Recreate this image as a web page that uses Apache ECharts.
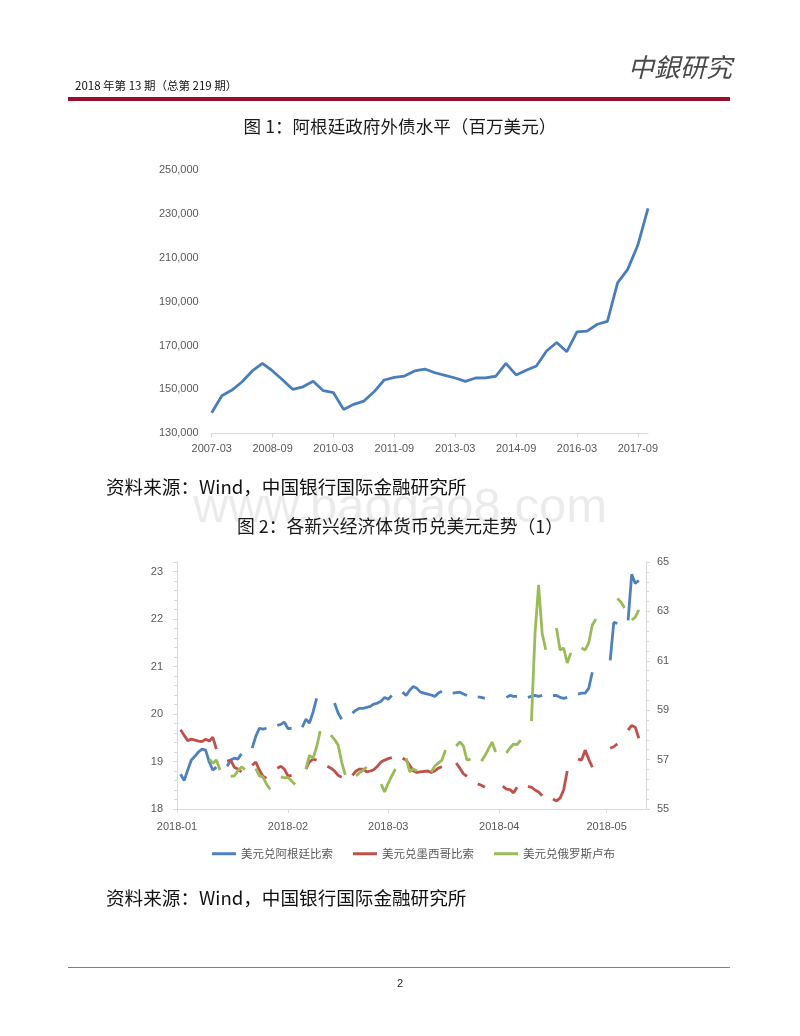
<!DOCTYPE html>
<html><head><meta charset="utf-8">
<script src="https://cdn.jsdelivr.net/npm/echarts@6/dist/echarts.min.js"></script>
<style>html,body{margin:0;padding:0;background:#fff}#c{width:800px;height:1036px}</style>
</head><body><div id="c"></div>
<script>
// ---------- Chart 1: Argentine government external debt (USD mn), quarterly 2007Q1-2017Q4
const debtValues = [139400,147100,149700,153500,158400,161900,158400,154300,150000,151200,153700,149400,
  148500,140900,143200,144700,148900,154300,155500,156100,158400,159300,157600,156400,155200,153700,
  155200,155300,156000,161900,156600,158700,160700,167500,171400,167200,176200,176600,179700,181000,
  198600,204700,215800,232500];
const debtYTicks = [130000, 250000, 20000]; // min, max, step
const quarterLabels = [];
for (let y = 2007; y <= 2017; y++) for (const m of ['03','06','09','12']) quarterLabels.push(y + '-' + m);

// ---------- Chart 2: daily, day 0 = 2018-01-01
const monthTicks = {0:'2018-01', 31:'2018-02', 59:'2018-03', 90:'2018-04', 120:'2018-05'};
const N = null;
const usdArs = [N,
 18.73,18.60,18.82,19.03,19.11,19.20,19.26,19.24,18.99,18.82,18.88, N,N,
 18.90,19.03,19.07,19.05,19.16, N,N,
 19.28,19.53,19.70,19.68,19.70, N,N,
 19.76,19.78,19.83,19.69,19.70, N,N,
 19.72,19.89,19.81,20.04,20.33, N,N,N,N,
 20.23,20.02,19.89, N,N,
 20.02,20.08,20.12,20.12,20.14,20.16,20.21,20.23,20.27,20.35,20.31,20.39, N,N,
 20.46,20.39,20.50,20.58,20.54,20.46,20.44,20.42,20.40,20.37,20.44,20.48, N,N,
 20.44,20.45,20.46,20.42,20.39, N,N,
 20.36,20.35,20.33, N,N,N,N,N,
 20.35,20.39,20.37,20.37, N,N,
 20.35,20.37,20.39,20.37,20.39, N,N,
 20.39,20.39,20.35,20.33,20.35, N,N,
 20.42,20.44,20.44,20.54,20.88, N,N,N,N,
 21.13,21.93,21.91, N,N,
 21.97,22.94,22.75,22.81, N,N];
const usdMxn = [N,
 19.67,19.55,19.44,19.47,19.45,19.43,19.42,19.47,19.43,19.51,19.26, N,N,
 19.01,19.03,18.88,18.84,18.78, N,N,
 18.92,18.99,18.82,18.69,18.65, N,N,
 18.86,18.90,18.84,18.69,18.71, N,N,N,
 18.84,18.99,19.05,19.03, N,N,
 18.90,18.86,18.80,18.71,18.67, N,N,
 18.71,18.80,18.84,18.84,18.78,18.80,18.83,18.90,18.99,19.03,19.06,19.08, N,N,
 19.07,19.03,18.92,18.80,18.77,18.78,18.79,18.80,18.77,18.80,18.86,18.89, N,N,N,
 18.97,18.86,18.74,18.69, N,N,
 18.53,18.50,18.46, N,N,N,N,
 18.48,18.42,18.41,18.34,18.46, N,N,
 18.47,18.46,18.40,18.36,18.28, N,N,
 18.21,18.17,18.23,18.40,18.80, N,N,
 19.05,19.03,19.24,19.05,18.88, N,N,N,N,
 19.28,19.31,19.37, N,N,
 19.66,19.76,19.72,19.49, N,N];
const usdRub = [N,N,N,N,N,N,N,N,N,
 57.02,56.86,56.98,56.58, N,N,
 56.32,56.34,56.54,56.70,56.60, N,N,
 56.64,56.34,56.30,56.01,55.79, N,N,
 56.30,56.26,56.28,56.13,55.99, N,N,
 56.62,57.17,57.06,57.51,58.16, N,N,
 57.99,57.81,57.59,56.90,56.38, N,N,
 56.34,56.46,56.58,56.70, N,N,N,
 56.01,55.69,56.05,56.34,56.62, N,N,
 57.06,56.50,56.62,56.54, N,N,N,
 56.50,56.74,56.86,56.98,57.39, N,N,
 57.55,57.71,57.55,56.98,57.02, N,N,
 56.94,57.15,57.43,57.71,57.31, N,N,
 57.27,57.47,57.63,57.61,57.79, N,N,
 58.56,62.10,64.07,62.10,61.45, N,N,
 62.33,61.44,61.52,60.91,61.32, N,N,
 61.52,61.44,61.72,62.45,62.69, N,N,N,N,N,
 63.52,63.38,63.14, N,
 62.65,62.77,63.06, N,N];
const seriesNames = ['美元兑阿根廷比索','美元兑墨西哥比索','美元兑俄罗斯卢布'];
const leftAxis = [18, 23.2, 1];
const rightAxis = [55, 65, 2];

const dayLabels = [];
for (let i = 0; i < 132; i++) dayLabels.push(String(i));

const CJK = '"Noto Sans CJK SC", sans-serif';
const NUM = '"Liberation Sans", Arial, sans-serif';
const axisGray = '#d9d9d9';
const labelGray = '#595959';

const chart = echarts.init(document.getElementById('c'), null, {renderer:'canvas'});
const isMonth = (i) => monthTicks[i] !== undefined;

chart.setOption({
  animation: false,
  backgroundColor: '#fff',
  color: ['#4f81bd','#c0504d','#9bbb59'],
  graphic: [
    {type:'text', left:75, top:80, style:{text:'2018 年第 13 期（总第 219 期）', font:'11.5px ' + CJK, fill:'#111'}},
    {type:'text', left:628, top:54, style:{text:'中銀研究', font:'italic 26px ' + CJK, fill:'#4a4a4a'}},
    {type:'rect', shape:{x:68, y:97, width:662, height:4}, style:{fill:'#9c0f2b'}},
    {type:'text', x:400, y:126, style:{text:'图 1：阿根廷政府外债水平（百万美元）', font:'17.6px ' + CJK, fill:'#1a1a1a', textAlign:'center', textVerticalAlign:'middle'}},
    {type:'text', x:106, y:487, style:{text:'资料来源：Wind，中国银行国际金融研究所', font:'18.6px ' + CJK, fill:'#111', textVerticalAlign:'middle'}},
    {type:'text', x:400, y:508, z:-1, style:{text:'www.baogao8.com', font:'49px ' + NUM, fill:'rgba(0,0,0,0.08)', textAlign:'center', textVerticalAlign:'middle'}},
    {type:'text', x:400, y:526, style:{text:'图 2：各新兴经济体货币兑美元走势（1）', font:'17.8px ' + CJK, fill:'#1a1a1a', textAlign:'center', textVerticalAlign:'middle'}},
    {type:'text', x:106, y:898, style:{text:'资料来源：Wind，中国银行国际金融研究所', font:'18.6px ' + CJK, fill:'#111', textVerticalAlign:'middle'}},
    {type:'line', shape:{x1:68, y1:967.5, x2:730, y2:967.5}, style:{stroke:'#808080', lineWidth:1}},
    {type:'text', x:400, y:984, style:{text:'2', font:'11px ' + NUM, fill:'#222', textAlign:'center', textVerticalAlign:'middle'}}
  ],
  legend: {
    data: seriesNames, left:207, top:843, icon:'rect', itemWidth:24, itemHeight:3, itemGap:20,
    textStyle:{fontFamily:CJK, fontSize:11.5, color:labelGray}
  },
  grid: [
    {left:211.7, right:152, top:170, bottom:1036-433.3},
    {left:177, right:154, top:562, bottom:227}
  ],
  xAxis: [
    {type:'category', gridIndex:0, data:quarterLabels, boundaryGap:false,
     axisLine:{lineStyle:{color:axisGray}},
     axisTick:{interval:5, length:4, lineStyle:{color:axisGray}},
     axisLabel:{interval:5, color:labelGray, fontSize:11, fontFamily:NUM, margin:10}},
    {type:'category', gridIndex:1, data:dayLabels, boundaryGap:false,
     axisLine:{lineStyle:{color:axisGray}},
     axisTick:{interval:(i)=>isMonth(i), length:4, lineStyle:{color:axisGray}},
     axisLabel:{interval:(i)=>isMonth(i), formatter:(v,i)=>monthTicks[i]||'', color:labelGray, fontSize:11, fontFamily:NUM, margin:12}}
  ],
  yAxis: [
    {type:'value', gridIndex:0, min:debtYTicks[0], max:debtYTicks[1], interval:debtYTicks[2],
     axisLine:{show:false}, axisTick:{show:false}, splitLine:{show:false},
     axisLabel:{color:labelGray, fontSize:11, fontFamily:NUM, margin:13,
       formatter:(v)=>v.toLocaleString('en-US')}},
    {type:'value', gridIndex:1, position:'left', min:leftAxis[0], max:leftAxis[1], interval:leftAxis[2],
     axisLine:{show:true, lineStyle:{color:axisGray}},
     axisTick:{show:true, length:4, lineStyle:{color:axisGray}},
     minorTick:{show:true, splitNumber:5, length:3, lineStyle:{color:axisGray}},
     splitLine:{show:false},
     axisLabel:{showMaxLabel:false, color:labelGray, fontSize:11, fontFamily:NUM, margin:14}},
    {type:'value', gridIndex:1, position:'right', min:rightAxis[0], max:rightAxis[1], interval:rightAxis[2],
     axisLine:{show:true, lineStyle:{color:axisGray}},
     axisTick:{show:true, length:4, lineStyle:{color:axisGray}},
     minorTick:{show:true, splitNumber:5, length:3, lineStyle:{color:axisGray}},
     splitLine:{show:false},
     axisLabel:{color:labelGray, fontSize:11, fontFamily:NUM, margin:11}}
  ],
  series: [
    {type:'line', name:'外债', xAxisIndex:0, yAxisIndex:0, data:debtValues, showSymbol:false,
     lineStyle:{width:2.8, color:'#4a7ebb'}, itemStyle:{color:'#4a7ebb'}},
    {type:'line', name:seriesNames[0], xAxisIndex:1, yAxisIndex:1, data:usdArs, showSymbol:false, connectNulls:false,
     lineStyle:{width:2.8}},
    {type:'line', name:seriesNames[1], xAxisIndex:1, yAxisIndex:1, data:usdMxn, showSymbol:false, connectNulls:false,
     lineStyle:{width:2.8}},
    {type:'line', name:seriesNames[2], xAxisIndex:1, yAxisIndex:2, data:usdRub, showSymbol:false, connectNulls:false,
     lineStyle:{width:2.8}}
  ]
});
</script>
</body></html>
